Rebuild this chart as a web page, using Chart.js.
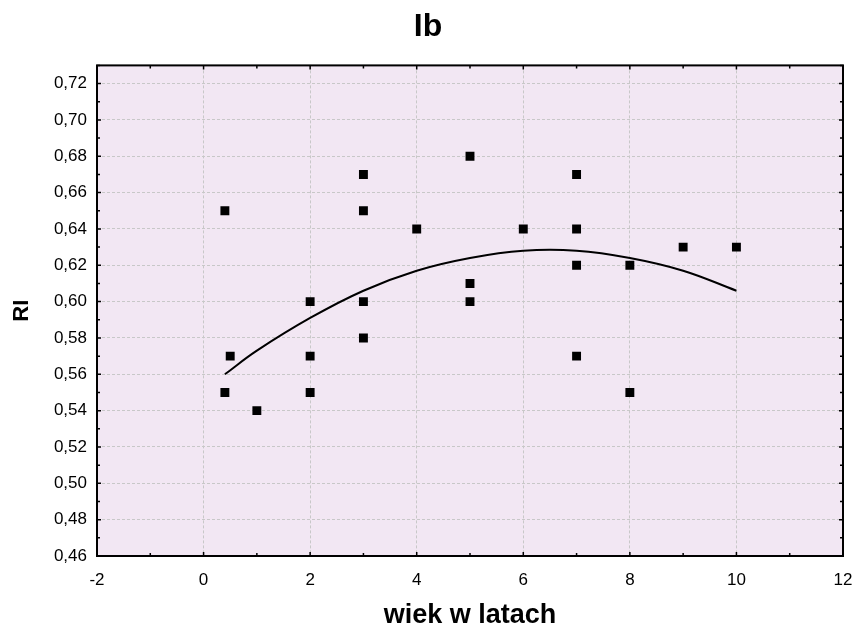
<!DOCTYPE html>
<html>
<head>
<meta charset="utf-8">
<script src="https://cdn.jsdelivr.net/npm/chart.js@4.4.1/dist/chart.umd.min.js"></script>
<style>
  html, body { margin: 0; background: #fff; }
</style>
</head>
<body>
<canvas id="riChart" width="856" height="632"></canvas>
<script>
// measured points: age (years) vs RI
const ageYears = [0.4, 0.4, 0.5, 1, 2, 2, 2, 3, 3, 3, 3, 4, 5, 5, 5, 6, 7, 7, 7, 7, 8, 8, 9, 10];
const riValues = [0.65, 0.55, 0.57, 0.54, 0.60, 0.57, 0.55, 0.67, 0.65, 0.60, 0.58, 0.64, 0.68, 0.61, 0.60, 0.64, 0.67, 0.64, 0.62, 0.57, 0.62, 0.55, 0.63, 0.63];

// fitted curve
const curveX = [0.4, 1, 2, 3, 4, 5, 6, 7, 8, 9, 10];
const curveY = [0.560, 0.573, 0.591, 0.606, 0.617, 0.624, 0.628, 0.628, 0.624, 0.617, 0.606];

const FONT = '"Liberation Sans", Arial, sans-serif';
const isMajorX = v => Math.round(v) % 2 === 0;
const isMajorY = v => Math.round(v * 100) % 2 === 0;

const plotFrame = {
  id: 'plotFrame',
  beforeDraw(chart) {
    const { ctx, chartArea: a } = chart;
    ctx.save();
    ctx.fillStyle = '#f2e7f3';
    ctx.fillRect(a.left, a.top, a.right - a.left, a.bottom - a.top);
    ctx.restore();
  },
  afterDraw(chart) {
    const { ctx, chartArea: a, scales } = chart;
    ctx.save();
    ctx.strokeStyle = '#000';
    ctx.lineWidth = 1.5;
    ctx.beginPath();
    scales.x.ticks.forEach(t => {
      const px = scales.x.getPixelForValue(t.value);
      const len = isMajorX(t.value) ? 4 : 3;
      ctx.moveTo(px, a.bottom); ctx.lineTo(px, a.bottom - len);
      ctx.moveTo(px, a.top); ctx.lineTo(px, a.top + len);
    });
    scales.y.ticks.forEach(t => {
      const py = scales.y.getPixelForValue(t.value);
      const len = isMajorY(t.value) ? 4 : 3;
      ctx.moveTo(a.left, py); ctx.lineTo(a.left + len, py);
      ctx.moveTo(a.right, py); ctx.lineTo(a.right - len, py);
    });
    ctx.stroke();
    ctx.lineWidth = 2;
    ctx.strokeRect(a.left, a.top, a.right - a.left, a.bottom - a.top);
    ctx.restore();
  }
};

new Chart(document.getElementById('riChart'), {
  type: 'scatter',
  data: {
    datasets: [
      {
        type: 'line',
        data: curveX.map((x, i) => ({ x, y: curveY[i] })),
        borderColor: '#000',
        borderWidth: 2,
        pointRadius: 0,
        tension: 0.4,
        fill: false,
      },
      {
        data: ageYears.map((x, i) => ({ x, y: riValues[i] })),
        pointStyle: 'rect',
        pointRadius: 6.3,
        backgroundColor: '#000',
        borderWidth: 0,
      },
    ],
  },
  options: {
    responsive: false,
    animation: false,
    layout: { padding: { left: 0, right: 0, top: 0, bottom: 0 } },
    plugins: {
      legend: { display: false },
      tooltip: { enabled: false },
      title: {
        display: true,
        text: 'Ib',
        color: '#000',
        font: { family: FONT, size: 32, weight: 'bold' },
        padding: { top: 8, bottom: 19 },
      },
    },
    scales: {
      x: {
        type: 'linear',
        min: -2,
        max: 12,
        border: { display: false, dash: [3, 2] },
        grid: {
          drawTicks: false,
          color: c => (isMajorX(c.tick.value) ? '#c8c8c8' : 'rgba(0,0,0,0)'),
        },
        ticks: {
          stepSize: 1,
          autoSkip: false,
          maxRotation: 0,
          padding: 14,
          color: '#000',
          font: { family: FONT, size: 17 },
          callback: v => (isMajorX(v) ? String(v) : ''),
        },
        title: {
          display: true,
          text: 'wiek w latach',
          color: '#000',
          font: { family: FONT, size: 27, weight: 'bold' },
          padding: { top: 0, bottom: 0 },
        },
        afterFit: s => {
          s.height = 76;
          s.paddingLeft = 0;
          s.paddingRight = 13;
        },
      },
      y: {
        min: 0.46,
        max: 0.73,
        border: { display: false, dash: [3, 2] },
        grid: {
          drawTicks: false,
          color: c => (isMajorY(c.tick.value) ? '#c8c8c8' : 'rgba(0,0,0,0)'),
        },
        ticks: {
          stepSize: 0.01,
          autoSkip: false,
          padding: 10,
          color: '#000',
          font: { family: FONT, size: 17 },
          callback: v => (isMajorY(v) ? v.toFixed(2).replace('.', ',') : ''),
        },
        title: {
          display: true,
          text: 'RI',
          color: '#000',
          font: { family: FONT, size: 22, weight: 'bold' },
          padding: { top: 9, bottom: 0 },
        },
        afterFit: s => { s.width = 97; },
      },
    },
  },
  plugins: [plotFrame],
});
</script>
</body>
</html>
